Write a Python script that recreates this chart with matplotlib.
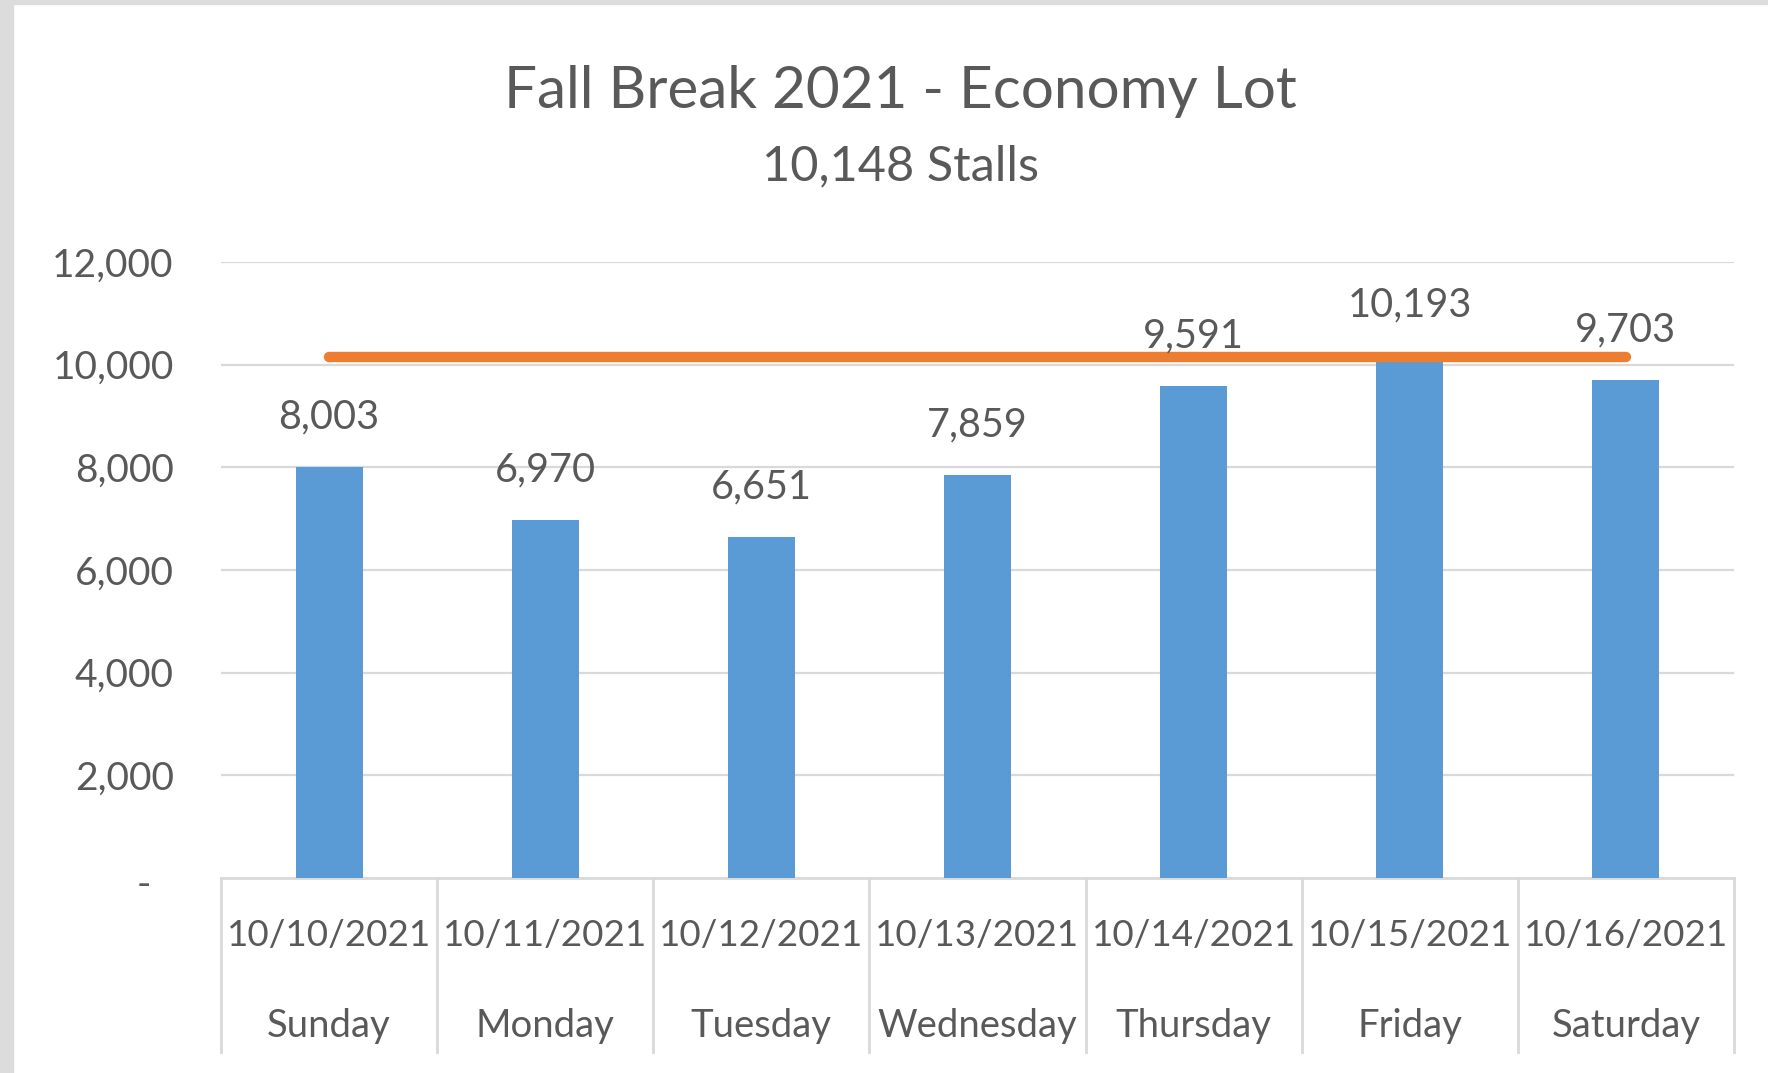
import matplotlib
matplotlib.use("Agg")
import matplotlib.pyplot as plt
import matplotlib.transforms as mtransforms
from matplotlib.patches import Rectangle

plt.rcParams['font.family'] = ['Lato', 'DejaVu Sans']

dates = ["10/10/2021", "10/11/2021", "10/12/2021", "10/13/2021", "10/14/2021", "10/15/2021", "10/16/2021"]
days = ["Sunday", "Monday", "Tuesday", "Wednesday", "Thursday", "Friday", "Saturday"]
counts = [8003, 6970, 6651, 7859, 9591, 10193, 9703]
capacity = 10148
title = "Fall Break 2021 - Economy Lot"
subtitle = "10,148 Stalls"
yticks = [0, 2000, 4000, 6000, 8000, 10000, 12000]

TXT = "#595959"
GRID = "#D9D9D9"
BAR = "#5B9BD5"
LINE = "#ED7D31"

W, H = 1768, 1073
fig = plt.figure(figsize=(W / 100, H / 100), dpi=100)
fig.patch.set_facecolor("white")

# outer frame strips
fig.patches.append(Rectangle((0, 0), 13 / W, 1, transform=fig.transFigure, color="#DCDCDC", zorder=0))
fig.patches.append(Rectangle((0, 1 - 4 / H), 1, 4 / H, transform=fig.transFigure, color="#DCDCDC", zorder=0))

left, right = 221 / W, 1734 / W
bottom, top = (H - 878) / H, (H - 262) / H
ax = fig.add_axes([left, bottom, right - left, top - bottom])

x = list(range(len(counts)))
ax.bar(x, counts, width=0.31, color=BAR, zorder=2)
ax.plot([x[0], x[-1]], [capacity, capacity], color=LINE, lw=7.5, solid_capstyle="round", zorder=3)

for xi, v in zip(x, counts):
    ax.annotate(f"{v:,}", (xi, v), xytext=(0, 36), textcoords="offset points",
                ha="center", va="center", fontsize=28.5, color=TXT, zorder=4)

ax.set_xlim(-0.5, len(counts) - 0.5)
ax.set_ylim(0, 12000)
ax.set_yticks(yticks)
ax.set_yticklabels(["-" if t == 0 else f"{t:,}" for t in yticks])
ax.tick_params(axis="y", length=0, pad=34, labelsize=28, labelcolor=TXT)
ax.set_xticks([])
for s in ax.spines.values():
    s.set_visible(False)
for t in yticks[1:]:
    ax.axhline(t, color=GRID, lw=1.6, zorder=1)
ax.axhline(0, color=GRID, lw=2.0, zorder=1, clip_on=False)

# accounting-style dash for zero sits further left
zero_lbl = ax.get_yticklabels()[0]
zero_lbl.set_transform(zero_lbl.get_transform() + mtransforms.ScaledTranslation(-0.23, -0.03, fig.dpi_scale_trans))

trans = mtransforms.blended_transform_factory(ax.transData, ax.transAxes)
sep_bottom = -(1052 - 878) / 616
for i in range(len(counts) + 1):
    ax.plot([i - 0.5, i - 0.5], [0, sep_bottom], transform=trans, color=GRID, lw=2.0, clip_on=False)
for xi, d, dn in zip(x, dates, days):
    ax.text(xi, -(936 - 878) / 616, d, transform=trans, ha="center", va="center", fontsize=26.5, color=TXT)
    ax.text(xi, -(1026 - 878) / 616, dn, transform=trans, ha="center", va="center", fontsize=27.5, color=TXT)

fig.text(900 / W, 1 - 91 / H, title, ha="center", va="center", fontsize=42, color=TXT)
fig.text(900 / W, 1 - 166 / H, subtitle, ha="center", va="center", fontsize=35, color=TXT)

fig.savefig("out.png", dpi=100)
